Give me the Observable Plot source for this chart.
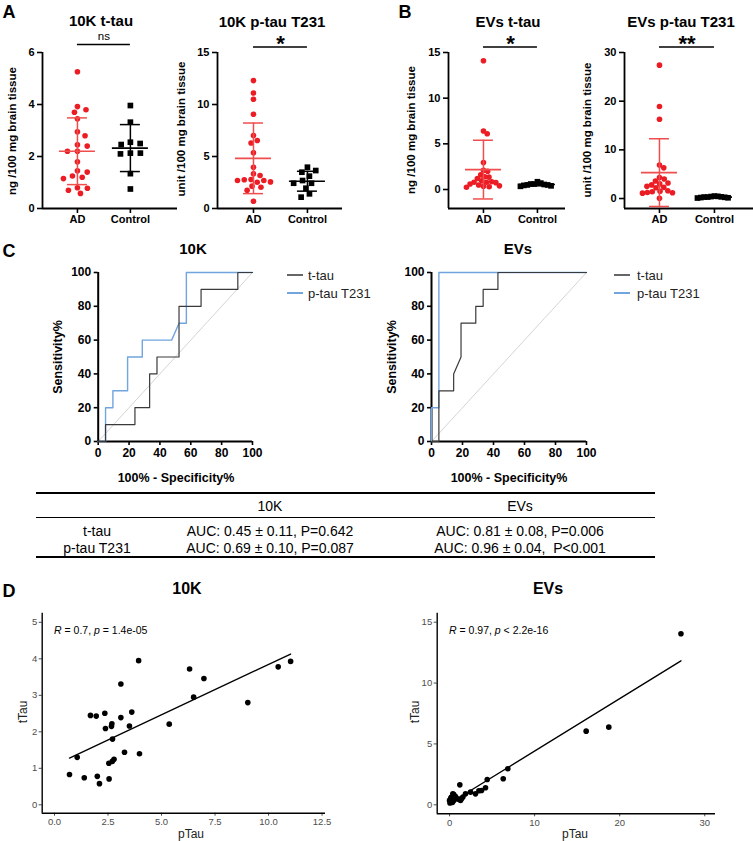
<!DOCTYPE html>
<html><head><meta charset="utf-8">
<script src="https://cdn.jsdelivr.net/npm/d3@7"></script>
<script src="https://cdn.jsdelivr.net/npm/@observablehq/plot@0.6"></script>
<style>
body{margin:0;background:#fff;font-family:"Liberation Sans",Arial,Helvetica,sans-serif;}
#root{position:relative;width:753px;height:841px;overflow:hidden;background:#fff;}
#root svg{overflow:visible;}
.lbl{position:absolute;white-space:pre;line-height:1;}
.gp svg g[aria-label$="axis"] line,.gp svg g[aria-label$="axis tick"] path{stroke-width:1.6px;}
</style></head><body><div id="root"></div><script>
// ---------- DATA ----------
const groups = ["AD", "Control"];
const dotTitles = ["10K t-tau", "10K p-tau T231", "EVs t-tau", "EVs p-tau T231"];
const dotYLabels = ["ng /100 mg brain tissue", "unit /100 mg brain tissue", "ng /100 mg brain tissue", "unit /100 mg brain tissue"];
const significance = ["ns", "*", "*", "**"];
// Panel A (10K)
const tTau10K_AD = [5.26, 3.92, 3.8, 3.7, 3.45, 2.95, 2.8, 2.45, 2.4, 2.2, 2.2, 1.8, 1.45, 1.4, 1.25, 1.2, 1.15, 0.8, 0.78, 0.7, 0.58];
const tTau10K_Control = [3.96, 3.32, 2.55, 2.5, 2.46, 2.13, 2.13, 2.1, 1.34, 0.75];
const pTau10K_AD = [12.3, 11.1, 10.5, 9.06, 7.02, 6.54, 6.3, 5.35, 3.97, 3.33, 3.17, 2.79, 2.76, 2.69, 2.69, 2.56, 2.53, 2.15, 2.05, 1.75, 0.7];
const pTau10K_Control = [3.97, 3.65, 3.49, 3.11, 2.69, 2.43, 2.43, 1.95, 1.41, 1.09];
// Panel B (EVs)
const tTauEV_AD = [14.1, 6.4, 6.1, 2.95, 2.1, 2.0, 1.6, 1.4, 1.35, 1.2, 0.95, 0.85, 0.8, 0.8, 0.75, 0.6, 0.5, 0.4, 0.35, 0.3, 0.25];
const tTauEV_Control = [0.85, 0.7, 0.6, 0.6, 0.55, 0.5, 0.5, 0.45, 0.4, 0.35];
const pTauEV_AD = [27.4, 18.9, 16.3, 6.9, 6.3, 4.3, 4.0, 3.6, 3.2, 3.0, 2.8, 2.5, 2.3, 2.2, 1.6, 1.5, 1.4, 1.25, 1.2, 1.1, 0.05];
const pTauEV_Control = [0.5, 0.45, 0.4, 0.35, 0.3, 0.3, 0.25, 0.2, 0.15, 0.1];
const ticksA_t = [0, 2, 4, 6];
const ticksA_p = [0, 5, 10, 15];
const ticksB_t = [0, 5, 10, 15];
const ticksB_p = [0, 10, 20, 30];
// Panel C (ROC): x = 100% - Specificity%, y = Sensitivity%
const rocTitles = ["10K", "EVs"];
const rocSeries = ["t-tau", "p-tau T231"];
const rocTicks = [0, 20, 40, 60, 80, 100];
const rocDiagonal = [0, 100];
const roc10K_t_x = [0, 4.76, 4.76, 23.81, 23.81, 33.33, 33.33, 38.1, 38.1, 52.38, 52.38, 66.67, 66.67, 90.48, 90.48, 100];
const roc10K_t_y = [0, 0, 10, 10, 20, 20, 40, 40, 50, 50, 80, 80, 90, 90, 100, 100];
const roc10K_p_x = [0, 4.76, 4.76, 9.52, 9.52, 19.05, 19.05, 28.57, 28.57, 47.62, 52.38, 57.14, 57.14, 100];
const roc10K_p_y = [0, 0, 20, 20, 30, 30, 50, 50, 60, 60, 70, 70, 100, 100];
const rocEV_t_x = [0, 4.76, 4.76, 14.29, 14.29, 19.05, 19.05, 28.57, 28.57, 33.33, 33.33, 42.86, 42.86, 100];
const rocEV_t_y = [0, 0, 30, 30, 40, 50, 70, 70, 80, 80, 90, 90, 100, 100];
const rocEV_p_x = [0, 0, 4.76, 4.76, 100];
const rocEV_p_y = [0, 20, 20, 100, 100];
// Table
const tableColumns = ["10K", "EVs"];
const tableRowLabels = ["t-tau", "p-tau T231"];
const tableCells = [
  ["AUC: 0.45 ± 0.11, P=0.642", "AUC: 0.81 ± 0.08, P=0.006"],
  ["AUC: 0.69 ± 0.10, P=0.087", "AUC: 0.96 ± 0.04,  P<0.001"]
];
// Panel D (correlation)
const corrTitles = ["10K", "EVs"];
const corrR = ["0.7", "0.97"];
const corrP = ["= 1.4e-05", "< 2.2e-16"];
const corr10K_pTau = [0.70, 1.06, 1.39, 1.68, 1.95, 2.0, 2.1, 2.35, 2.38, 2.54, 2.55, 2.66, 2.68, 2.71, 2.70, 2.78, 3.1, 3.1, 3.27, 3.5, 3.61, 3.93, 3.97, 5.36, 6.31, 6.5, 6.98, 9.03, 10.45, 11.03];
const corr10K_tTau = [0.83, 1.30, 0.74, 2.45, 2.43, 0.78, 0.58, 2.51, 2.09, 1.14, 0.71, 2.15, 2.22, 1.80, 1.19, 1.25, 3.31, 2.39, 1.44, 2.16, 2.54, 3.95, 1.40, 2.21, 3.72, 2.95, 3.46, 2.80, 3.78, 3.93];
const corrEV_pTau = [27.2, 16.06, 18.72, 6.85, 6.31, 4.43, 4.23, 3.76, 3.45, 3.05, 2.47, 1.88, 1.57, 1.21, 1.29, 1.1, 0.9, 0.7, 0.5, 0.39, 0.23, 0.12, 0.0, 0.5, 0.3, 0.2, 0.15, 0.35, 0.05, 0.6, 1.4];
const corrEV_tTau = [14.05, 6.05, 6.38, 2.96, 2.14, 2.08, 1.40, 1.18, 1.15, 0.90, 1.04, 0.90, 0.63, 1.64, 0.36, 0.45, 0.50, 0.68, 0.85, 0.90, 0.63, 0.22, 0.36, 0.36, 0.45, 0.30, 0.55, 0.20, 0.15, 0.70, 0.50];
const corrTicks10K_x = [0, 2.5, 5, 7.5, 10, 12.5];
const corrTicks10K_y = [0, 1, 2, 3, 4, 5];
const corrTicksEV_x = [0, 10, 20, 30];
const corrTicksEV_y = [0, 5, 10, 15];

// ---------- HELPERS ----------
const root = document.getElementById("root");
const FONT = '"Liberation Sans", Arial, Helvetica, sans-serif';
const RED = "#ec1c24", RED_BAR = "#f04e4e", BLUE = "#72a4de", GRAY = "#3a3a3a";
const esc = s => s.replace(/&/g, "&amp;").replace(/</g, "&lt;");

function label(html, x, y, o = {}) {
  const d = document.createElement("div");
  d.className = "lbl";
  d.innerHTML = html;
  d.style.left = x + "px";
  d.style.top = y + "px";
  d.style.fontSize = (o.size || 12) + "px";
  d.style.fontWeight = o.bold ? "bold" : "normal";
  d.style.color = o.color || "#000";
  const tx = o.anchor === "start" ? "0" : "-50%";
  d.style.transform = `translate(${tx},-50%)` + (o.rotate ? " rotate(-90deg)" : "");
  root.appendChild(d);
}
function mount(svg, left, top, cls) {
  const d = document.createElement("div");
  d.style.cssText = `position:absolute;left:${left}px;top:${top}px;`;
  if (cls) d.className = cls;
  d.appendChild(svg);
  root.appendChild(d);
}
function hline(x, y, w, h) {
  const d = document.createElement("div");
  d.style.cssText = `position:absolute;left:${x}px;top:${y}px;width:${w}px;height:${h}px;background:#000;`;
  root.appendChild(d);
}
// beeswarm offsets (pixels) with elliptical collision
function swarm(ysPx, dx, dyMin, maxHalf) {
  const k = dx / dyMin;
  const ys = ysPx.map(y => y * k);
  const d = dx;
  const idx = d3.range(ys.length).sort((a, b) => ys[a] - ys[b]);
  const xs = new Array(ys.length).fill(0);
  const placed = [];
  for (const i of idx) {
    const cands = [0];
    for (const j of placed) {
      const dy = ys[i] - ys[j];
      if (Math.abs(dy) < d) { const w = Math.sqrt(d * d - dy * dy); cands.push(xs[j] + w, xs[j] - w); }
    }
    cands.sort((a, b) => Math.abs(a) - Math.abs(b) || b - a);
    for (const c of cands) {
      if (placed.every(j => (c - xs[j]) ** 2 + (ys[i] - ys[j]) ** 2 >= d * d - 1e-6)) { xs[i] = c; break; }
    }
    placed.push(i);
  }
  const m = d3.max(xs, Math.abs) || 1;
  const s = m > maxHalf ? maxHalf / m : 1;
  return xs.map(x => x * s);
}

// ---------- PANELS A & B ----------
function dotPanel(c) {
  const pxPerUnit = (c.width - c.ml - c.mr) / (c.xDomain[1] - c.xDomain[0]);
  const yPx = d3.scaleLinear(c.yDomain, [c.height - c.mb, c.mt]);
  const sets = [c.ad, c.ctrl];
  const pts = sets.map((vals, g) => {
    const off = swarm(vals.map(v => yPx(v)), 10, 6, 17);
    return vals.map((v, i) => ({g, v, x: g + off[i] / pxPerUnit}));
  });
  const stats = sets.map((vals, g) => {
    const m = d3.mean(vals), s = d3.deviation(vals);
    return {g, mean: m, lo: m - s, hi: m + s};
  });
  const meanHalf = 18 / pxPerUnit, capHalf = 10 / pxPerUnit;
  const bars = (st, color) => [
    Plot.ruleX([st], {x: "g", y1: "lo", y2: "hi", stroke: color, strokeWidth: 1.5}),
    Plot.ruleY([st], {y: "mean", x1: d => d.g - meanHalf, x2: d => d.g + meanHalf, stroke: color, strokeWidth: 1.7}),
    Plot.ruleY([st.lo, st.hi], {y: d => d, x1: st.g - capHalf, x2: st.g + capHalf, stroke: color, strokeWidth: 1.5})
  ];
  const isNs = c.sig === "ns";
  const svg = Plot.plot({
    width: c.width, height: c.height,
    marginLeft: c.ml, marginRight: c.mr, marginTop: c.mt, marginBottom: c.mb,
    style: {fontFamily: FONT, fontSize: "11px", fontWeight: "bold", color: "#000", background: "transparent", overflow: "visible"},
    x: {domain: c.xDomain, ticks: [0, 1], tickFormat: i => groups[i], tickSize: 5, tickPadding: 2, label: null},
    y: {domain: c.yDomain, ticks: c.yTicks, tickFormat: d3.format("d"), tickSize: 5, tickPadding: 3, label: null},
    marks: [
      Plot.ruleY([c.yDomain[0]], {stroke: "#000", strokeWidth: 1.8}),
      Plot.ruleX([c.xDomain[0]], {stroke: "#000", strokeWidth: 1.8}),
      Plot.dot(pts[0], {x: "x", y: "v", r: 2.8, fill: RED}),
      Plot.dot(pts[1], {x: "x", y: "v", r: 3.2, symbol: "square", fill: "#000"}),
      ...bars(stats[0], RED_BAR),
      ...bars(stats[1], "#000"),
      Plot.ruleY([c.yDomain[1]], {x1: 0, x2: 1, dy: c.bracketDy, stroke: "#000", strokeWidth: 1.6}),
      Plot.text([c.sig], {x: (0 + 1) / 2, y: c.yDomain[1], text: d => d, dy: isNs ? -16.5 : -8.7,
        fontSize: isNs ? 11.5 : 22, fontWeight: isNs ? "normal" : "bold", fill: "#000"})
    ]
  });
  mount(svg, c.left, c.top, "gp");
}

dotPanel({ad: tTau10K_AD, ctrl: tTau10K_Control, left: 0, top: 30, width: 185, height: 200, ml: 42, mr: 8, mt: 22, mb: 22,
  xDomain: [-0.66, 1.89], yDomain: [0, 6], yTicks: ticksA_t, sig: significance[0], bracketDy: -8});
dotPanel({ad: pTau10K_AD, ctrl: pTau10K_Control, left: 185, top: 30, width: 175, height: 200, ml: 32, mr: 18, mt: 22, mb: 22,
  xDomain: [-0.667, 1.65], yDomain: [0, 15], yTicks: ticksA_p, sig: significance[1], bracketDy: -5.5});
dotPanel({ad: tTauEV_AD, ctrl: tTauEV_Control, left: 420, top: 30, width: 160, height: 200, ml: 28, mr: 15, mt: 22, mb: 22,
  xDomain: [-0.648, 1.52], yDomain: [-2.08, 15], yTicks: ticksB_t, sig: significance[2], bracketDy: -5.5});
dotPanel({ad: pTauEV_AD, ctrl: pTauEV_Control, left: 600, top: 30, width: 153, height: 200, ml: 24, mr: 0, mt: 22, mb: 22,
  xDomain: [-0.636, 1.71], yDomain: [-2.05, 30], yTicks: ticksB_p, sig: significance[3], bracketDy: -5.5});

// ---------- PANEL C ----------
function rocPanel(c) {
  const pts = (X, Y) => X.map((x, i) => ({x, y: Y[i]}));
  const svg = Plot.plot({
    width: c.width, height: c.height,
    marginLeft: c.ml, marginRight: c.mr, marginTop: c.mt, marginBottom: c.mb,
    style: {fontFamily: FONT, fontSize: "12px", fontWeight: "bold", color: "#000", background: "transparent", overflow: "visible"},
    x: {domain: [0, 100], ticks: rocTicks, tickSize: 4, tickPadding: 3, label: null},
    y: {domain: [0, 100], ticks: rocTicks, tickSize: 4, tickPadding: 3, label: null},
    marks: [
      Plot.line(pts(rocDiagonal, rocDiagonal), {x: "x", y: "y", stroke: "#c9c9c9", strokeWidth: 0.8}),
      Plot.ruleX([0], {stroke: "#000", strokeWidth: 2}),
      Plot.ruleY([0], {stroke: "#000", strokeWidth: 2}),
      Plot.line(pts(c.px, c.py), {x: "x", y: "y", stroke: BLUE, strokeWidth: 1.4}),
      Plot.line(pts(c.tx, c.ty), {x: "x", y: "y", stroke: GRAY, strokeWidth: 1.2})
    ]
  });
  mount(svg, c.left, c.top, "gp");
}
rocPanel({left: 40, top: 260, width: 225, height: 210, ml: 57.7, mr: 13, mt: 12, mb: 29,
  tx: roc10K_t_x, ty: roc10K_t_y, px: roc10K_p_x, py: roc10K_p_y});
rocPanel({left: 375, top: 260, width: 225, height: 210, ml: 56, mr: 14, mt: 12, mb: 29,
  tx: rocEV_t_x, ty: rocEV_t_y, px: rocEV_p_x, py: rocEV_p_y});

// ---------- PANEL D ----------
function corrPanel(c) {
  const data = c.xs.map((x, i) => ({x, y: c.ys[i]}));
  const svg = Plot.plot({
    width: c.width, height: c.height,
    marginLeft: c.ml, marginRight: c.mr, marginTop: c.mt, marginBottom: c.mb,
    style: {fontFamily: FONT, fontSize: "9.5px", color: "#4d4d4d", background: "transparent", overflow: "visible"},
    x: {domain: c.xDomain, ticks: c.xTicks, tickFormat: c.xFormat, tickSize: 3, tickPadding: 2, label: null},
    y: {domain: c.yDomain, ticks: c.yTicks, tickFormat: d3.format("d"), tickSize: 3, tickPadding: 2, label: null},
    marks: [
      Plot.ruleX([c.xDomain[0]], {stroke: "#000", strokeWidth: 1.4}),
      Plot.ruleY([c.yDomain[0]], {stroke: "#000", strokeWidth: 1.4}),
      Plot.dot(data, {x: "x", y: "y", r: 2.8, fill: "#000"}),
      Plot.linearRegressionY(data, {x: "x", y: "y", ci: 0, stroke: "#000", strokeWidth: 1.4})
    ]
  });
  mount(svg, c.left, c.top);
}
corrPanel({xs: corr10K_pTau, ys: corr10K_tTau, left: 0, top: 600, width: 340, height: 241, ml: 41.7, mr: 15, mt: 12.7, mb: 28.3,
  xDomain: [-0.575, 12.66], yDomain: [-0.23, 5.25], xTicks: corrTicks10K_x, yTicks: corrTicks10K_y, xFormat: d3.format(".1f")});
corrPanel({xs: corrEV_pTau, ys: corrEV_tTau, left: 380, top: 600, width: 350, height: 241, ml: 56.7, mr: 15, mt: 12.7, mb: 27.7,
  xDomain: [-1.45, 31.26], yDomain: [-0.74, 15.74], xTicks: corrTicksEV_x, yTicks: corrTicksEV_y, xFormat: d3.format("d")});

// ---------- TEXT OVERLAYS ----------
// panel letters
label("A", 9, 12, {size: 18, bold: true});
label("B", 405, 12, {size: 18, bold: true});
label("C", 9, 251, {size: 18, bold: true});
label("D", 9, 591, {size: 18, bold: true});
// A/B titles and y labels
[[101, 19.5], [272, 20.5], [508, 20.5], [681, 20.5]].forEach(([x, y], i) => label(esc(dotTitles[i]), x, y, {size: 15, bold: true}));
[[12.5, 131], [182, 129], [412, 130], [588, 130]].forEach(([x, y], i) => label(esc(dotYLabels[i]), x, y, {size: 11.5, bold: true, rotate: true}));
// C titles, axis labels, legends
label(rocTitles[0], 193, 248, {size: 15, bold: true});
label(rocTitles[1], 518, 248, {size: 15, bold: true});
label("Sensitivity%", 58, 357, {size: 12.5, bold: true, rotate: true});
label("Sensitivity%", 392, 357, {size: 12.5, bold: true, rotate: true});
label("100% - Specificity%", 176, 478, {size: 12.5, bold: true});
label("100% - Specificity%", 509, 478, {size: 12.5, bold: true});
[[287, 308], [614, 637]].forEach(([lx, tx]) => {
  [[275, "#666", rocSeries[0]], [293, BLUE, rocSeries[1]]].forEach(([y, col, name]) => {
    const l = document.createElement("div");
    l.style.cssText = `position:absolute;left:${lx}px;top:${y - 0.75}px;width:16px;height:1.5px;background:${col};`;
    root.appendChild(l);
    label(esc(name), tx, y, {size: 13, anchor: "start", color: "#222"});
  });
});
// table
hline(36, 492, 619, 2);
hline(36, 517, 619, 1.3);
hline(36, 556, 619, 2);
label(tableColumns[0], 270, 506, {size: 14});
label(tableColumns[1], 520, 506, {size: 14});
tableRowLabels.forEach((r, i) => {
  const y = [531, 548][i];
  label(esc(r), 97, y, {size: 14});
  label(esc(tableCells[i][0]), 270, y, {size: 14});
  label(esc(tableCells[i][1]), 520, y, {size: 14});
});
// D titles, annotations, axis labels
label(corrTitles[0], 187, 588.5, {size: 16, bold: true});
label(corrTitles[1], 548, 588.5, {size: 16, bold: true});
label(`<i>R</i> = ${corrR[0]}, <i>p</i> ${esc(corrP[0])}`, 54, 629.5, {size: 10.5, anchor: "start"});
label(`<i>R</i> = ${corrR[1]}, <i>p</i> ${esc(corrP[1])}`, 449, 630, {size: 10.5, anchor: "start"});
label("pTau", 191, 834, {size: 12, color: "#222"});
label("pTau", 575, 834, {size: 12, color: "#222"});
label("tTau", 23, 712, {size: 12, color: "#222", rotate: true});
label("tTau", 415, 712, {size: 12, color: "#222", rotate: true});
</script></body></html>
